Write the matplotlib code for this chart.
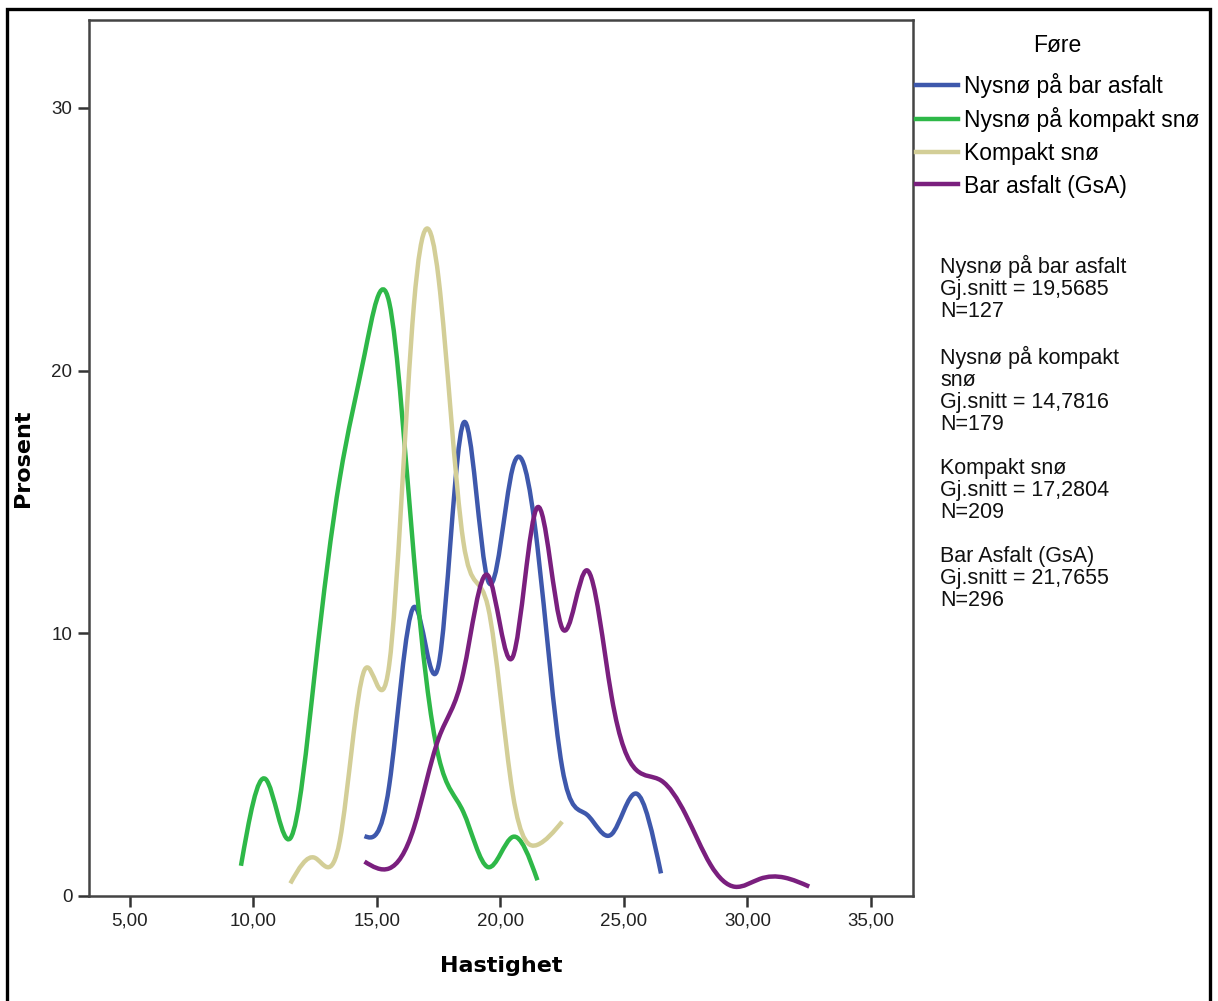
import numpy as np
import matplotlib
matplotlib.use("Agg")
import matplotlib.pyplot as plt
from matplotlib.path import Path
from matplotlib.patches import PathPatch, Rectangle
from matplotlib.lines import Line2D

# ---------------- data (percent per speed bin, bin centres) ----------------
x_green = [9.5, 10.5, 11.5, 12.5, 13.5, 14.5, 15.5, 16.5, 17.5, 18.5, 19.5, 20.5, 21.5]
y_green = [1.15, 4.45, 2.2, 8.6, 15.9, 20.6, 22.6, 12.9, 5.3, 3.2, 1.1, 2.25, 0.6]

x_khaki = [11.5, 12.5, 13.5, 14.5, 15.5, 16.5, 17.5, 18.5, 19.5, 20.5, 21.5, 22.5]
y_khaki = [0.48, 1.45, 2.1, 8.6, 8.8, 22.5, 23.5, 13.5, 11.0, 3.9, 1.95, 2.83]

x_blue = [14.5, 15.5, 16.5, 17.5, 18.5, 19.5, 20.5, 21.5, 22.5, 23.5, 24.5, 25.5, 26.5]
y_blue = [2.28, 4.2, 11.0, 8.8, 18.0, 12.0, 16.3, 13.3, 4.9, 3.1, 2.35, 3.9, 0.86]

x_purple = [14.5, 15.5, 16.5, 17.5, 18.5, 19.5, 20.5, 21.5, 22.5, 23.5, 24.5,
            25.5, 26.5, 27.5, 28.5, 29.5, 30.5, 31.5, 32.5]
y_purple = [1.31, 1.05, 2.6, 6.0, 8.5, 12.2, 9.1, 14.8, 10.2, 12.4, 7.6,
            4.8, 4.4, 3.1, 1.2, 0.35, 0.65, 0.7, 0.36]

series_labels = ["Nysnø på bar asfalt", "Nysnø på kompakt snø", "Kompakt snø", "Bar asfalt (GsA)"]
x_ticks = [5, 10, 15, 20, 25, 30, 35]
x_ticklabels = ["5,00", "10,00", "15,00", "20,00", "25,00", "30,00", "35,00"]
y_ticks = [0, 10, 20, 30]
y_ticklabels = ["0", "10", "20", "30"]

stats_text = ("Nysnø på bar asfalt\nGj.snitt = 19,5685\nN=127\n\n"
              "Nysnø på kompakt\nsnø\nGj.snitt = 14,7816\nN=179\n\n"
              "Kompakt snø\nGj.snitt = 17,2804\nN=209\n\n"
              "Bar Asfalt (GsA)\nGj.snitt = 21,7655\nN=296")

colors = ["#3E58AC", "#2EB848", "#D3CE97", "#7A1F7E"]

# ---------------- spline path (natural cubic, rendered as Bezier) ----------------
def spline_path(xs, ys):
    x = np.asarray(xs, float)
    y = np.asarray(ys, float)
    n = len(x)
    h = np.diff(x)
    A = np.zeros((n, n))
    r = np.zeros(n)
    A[0, 0] = 1
    A[-1, -1] = 1
    for i in range(1, n - 1):
        A[i, i - 1] = h[i - 1]
        A[i, i] = 2 * (h[i - 1] + h[i])
        A[i, i + 1] = h[i]
        r[i] = 6 * ((y[i + 1] - y[i]) / h[i] - (y[i] - y[i - 1]) / h[i - 1])
    M = np.linalg.solve(A, r)
    d = np.zeros(n)
    for i in range(n - 1):
        d[i] = (y[i + 1] - y[i]) / h[i] - h[i] * (2 * M[i] + M[i + 1]) / 6
    d[-1] = (y[-1] - y[-2]) / h[-1] + h[-1] * (M[-2] + 2 * M[-1]) / 6
    verts = [(x[0], y[0])]
    codes = [Path.MOVETO]
    for i in range(n - 1):
        verts += [(x[i] + h[i] / 3, y[i] + d[i] * h[i] / 3),
                  (x[i + 1] - h[i] / 3, y[i + 1] - d[i + 1] * h[i] / 3),
                  (x[i + 1], y[i + 1])]
        codes += [Path.CURVE4] * 3
    return Path(verts, codes)

plt.rcParams['font.family'] = ['Liberation Sans', 'DejaVu Sans']

fig = plt.figure(figsize=(12.18, 10.01), dpi=100)
W, H = 1218, 1001
ax = fig.add_axes([89 / W, 1 - 896 / H, (913 - 89) / W, (896 - 20) / H])

series = [(x_blue, y_blue), (x_green, y_green), (x_khaki, y_khaki), (x_purple, y_purple)]
for (xs, ys), c in zip(series, colors):
    p = PathPatch(spline_path(xs, ys), facecolor='none', edgecolor=c, lw=3.2,
                  capstyle='butt', joinstyle='round')
    ax.add_patch(p)

ax.set_xlim(3.35, 36.7)
ax.set_ylim(0, 33.35)
ax.set_xticks(x_ticks)
ax.set_xticklabels(x_ticklabels)
ax.set_yticks(y_ticks)
ax.set_yticklabels(y_ticklabels)
ax.tick_params(direction='out', length=8, width=1.8, colors='#333333',
               labelsize=13.5, labelcolor='#222222', pad=4)
for s in ax.spines.values():
    s.set_color('#444444')
    s.set_linewidth(1.8)

ax.set_xlabel("Hastighet", fontsize=16, fontweight='bold', family='DejaVu Sans', labelpad=19)
ax.set_ylabel("Prosent", fontsize=16, fontweight='bold', family='DejaVu Sans', labelpad=13)

handles = [Line2D([], [], color=c, lw=3.2) for c in colors]
leg = fig.legend(handles, series_labels, loc='upper left',
                 bbox_to_anchor=(916 / W, 1 - 34 / H), bbox_transform=fig.transFigure,
                 frameon=False, borderpad=0, borderaxespad=0, handlelength=1.83,
                 handletextpad=0.26, labelspacing=0.415, fontsize=16.5,
                 title="Føre", title_fontsize=16.5)
leg._legend_box.sep = 11.5

fig.text(940 / W, 1 - 255 / H, stats_text, fontsize=15.5, va='top', ha='left',
         linespacing=1.067, color='#111111')

# outer frame
fig.add_artist(Rectangle((7 / W, -0.05), (1210 - 7) / W, 1.05 - 9 / H,
                         transform=fig.transFigure, fill=False, edgecolor='black',
                         lw=2.4, zorder=10))

fig.savefig("out.png", dpi=100)
